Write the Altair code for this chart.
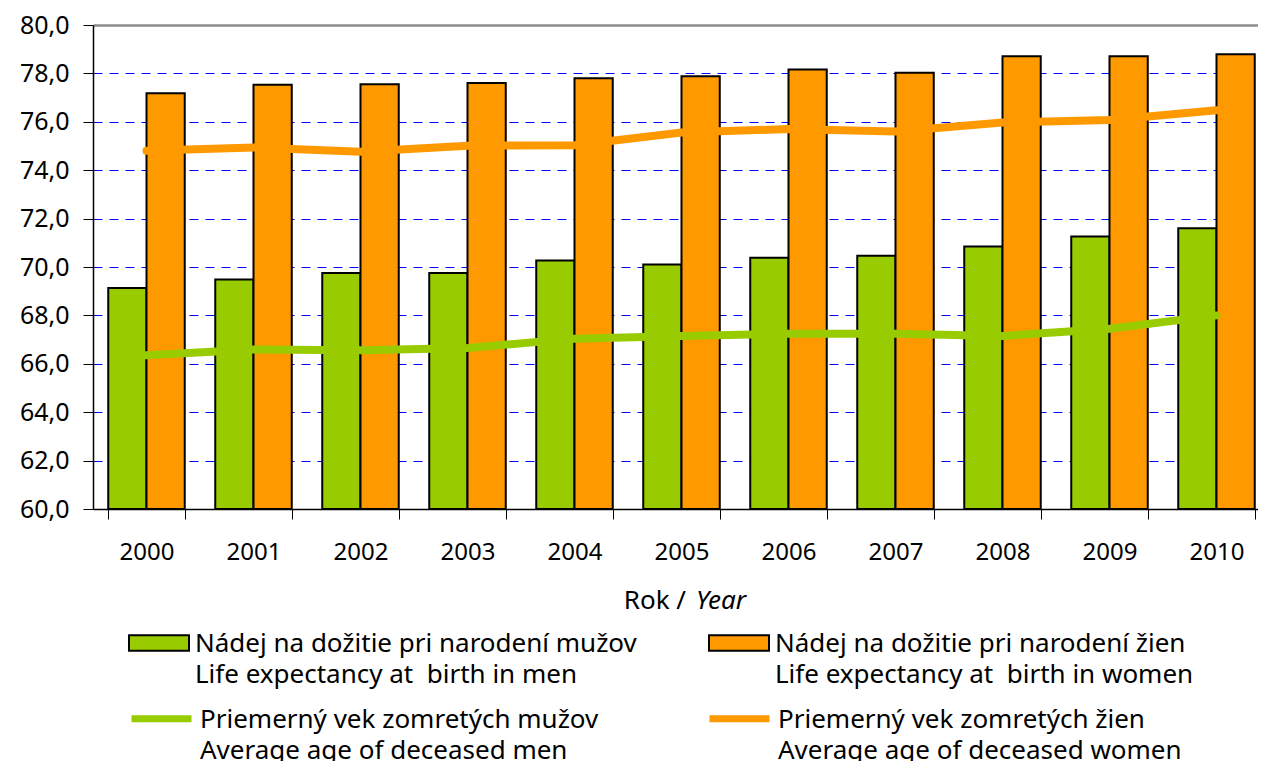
import altair as alt
import pandas as pd

years = ["2000", "2001", "2002", "2003", "2004", "2005", "2006", "2007", "2008", "2009", "2010"]
men_life = [69.13, 69.48, 69.75, 69.75, 70.27, 70.1, 70.38, 70.47, 70.85, 71.26, 71.6]
women_life = [77.18, 77.53, 77.55, 77.6, 77.8, 77.88, 78.16, 78.03, 78.71, 78.71, 78.79]
men_avg_age = [66.35, 66.59, 66.56, 66.65, 67.04, 67.15, 67.24, 67.24, 67.15, 67.45, 68.0]
women_avg_age = [74.8, 74.94, 74.76, 75.01, 75.03, 75.56, 75.7, 75.6, 75.97, 76.07, 76.48]

bar_series = [
    "Nádej na dožitie pri narodení mužov\nLife expectancy at\u00a0 birth in men",
    "Nádej na dožitie pri narodení žien\nLife expectancy at\u00a0 birth in women",
]
line_series = [
    "Priemerný vek zomretých mužov\nAverage age of deceased men",
    "Priemerný vek zomretých žien\nAverage age of deceased women",
]
x_title_main = ["Rok /"]
x_title_italic = ["Year"]
y_ticks = [60, 62, 64, 66, 68, 70, 72, 74, 76, 78, 80]

GREEN = "#99cc00"
ORANGE = "#ff9900"
FONT = "Noto Sans"

bars_df = pd.DataFrame({
    "year": years + years,
    "series": [bar_series[0]] * len(years) + [bar_series[1]] * len(years),
    "value": men_life + women_life,
})
lines_df = pd.DataFrame({
    "year": years + years,
    "series": [line_series[0]] * len(years) + [line_series[1]] * len(years),
    "value": men_avg_age + women_avg_age,
})

x_enc = alt.X(
    "year:N",
    sort=years,
    scale=alt.Scale(paddingInner=0.285, paddingOuter=0.1425),
    axis=alt.Axis(
        title=None, labelAngle=0, tickBand="extent", tickSize=10, tickColor="black",
        domainColor="black", domainWidth=1.5, labelFontSize=24, labelPadding=21,
        grid=False, labelColor="black",
    ),
)
y_scale = alt.Scale(domain=[60, 80], zero=False, nice=False)
y_axis = alt.Axis(
    title=None, values=y_ticks,
    labelExpr="replace(format(datum.value, '.1f'), '.', ',')",
    tickSize=10, tickColor="black", domainColor="black", domainWidth=1.5,
    labelFontSize=25, labelPadding=14, labelColor="black",
    grid=True,
    gridColor={"condition": {"test": "datum.value === 80", "value": "#8c8c8c"}, "value": "#0000ff"},
    gridDash={"condition": {"test": "datum.value === 80", "value": []}, "value": [9, 7]},
    gridWidth={"condition": {"test": "datum.value === 80", "value": 2.5}, "value": 1},
)

bars = alt.Chart(bars_df).mark_bar(stroke="black", strokeWidth=2).encode(
    x=x_enc,
    xOffset=alt.XOffset("series:N", sort=bar_series, scale=alt.Scale(paddingInner=0, paddingOuter=0)),
    y=alt.Y("value:Q", scale=y_scale, axis=y_axis),
    y2=alt.Y2(datum=60),
    fill=alt.Fill(
        "series:N",
        scale=alt.Scale(domain=bar_series, range=[GREEN, ORANGE]),
        legend=alt.Legend(
            title=None, orient="none", legendX=35, legendY=575, direction="horizontal",
            columns=2, columnPadding=68, padding=0,
            symbolType="M-1,0.14H1V0.66H-1Z", symbolSize=3600,
            symbolStrokeColor="black", symbolStrokeWidth=2,
            labelExpr="split(datum.label, '\\n')",
            labelFontSize=26, labelBaseline="top", labelOffset=5, labelLimit=800,
        ),
    ),
)

lines = alt.Chart(lines_df).mark_line(strokeWidth=8, strokeCap="round").encode(
    x=alt.X("year:N", sort=years),
    y=alt.Y("value:Q", scale=y_scale),
    stroke=alt.Stroke(
        "series:N",
        scale=alt.Scale(domain=line_series, range=[GREEN, ORANGE]),
        legend=alt.Legend(
            title=None, orient="none", legendX=35, legendY=648, direction="horizontal",
            columns=2, columnPadding=96, padding=0,
            symbolType="M-1,0.4H1", symbolSize=3600, symbolStrokeWidth=7,
            symbolFillColor="transparent",
            labelExpr="split(datum.label, '\\n')",
            labelFontSize=26, labelBaseline="top", labelOffset=5, labelLimit=800,
        ),
    ),
)

title_main = alt.Chart(pd.DataFrame({"t": x_title_main})).mark_text(
    align="right", baseline="middle", fontSize=26, font=FONT, color="black"
).encode(text="t:N", x=alt.value(593), y=alt.value(576))

title_italic = alt.Chart(pd.DataFrame({"t": x_title_italic})).mark_text(
    align="left", baseline="middle", fontSize=26, font=FONT, fontStyle="italic", color="black"
).encode(text="t:N", x=alt.value(603), y=alt.value(576))

chart = alt.layer(bars, lines, title_main, title_italic).properties(
    width=1177,
    height=484,
    padding={"left": 85, "top": 17, "right": -12, "bottom": 252},
    autosize=alt.AutoSizeParams(type="none"),
).configure(
    font=FONT,
    style={"guide-label": {"lineHeight": 31}},
).configure_view(stroke=None).configure_axis(
    labelFont=FONT,
).configure_legend(
    labelFont=FONT, labelColor="black",
)

chart.save("out.html", embed_options={"renderer": "svg", "actions": False})
